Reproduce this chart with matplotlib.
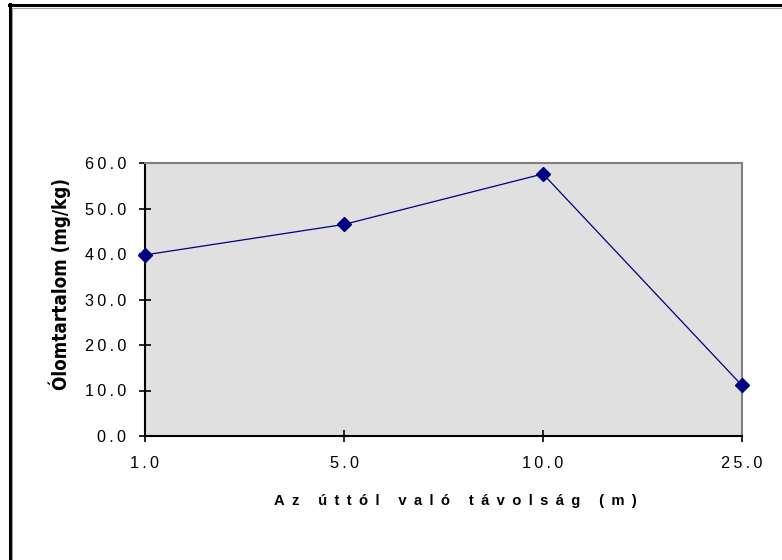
import matplotlib
matplotlib.use("Agg")
import matplotlib.pyplot as plt
from matplotlib.lines import Line2D

# Lead content of soil samples by distance from the road
distances = ["1.0", "5.0", "10.0", "25.0"]
lead_mg_kg = [39.8, 46.5, 57.6, 11.1]
y_ticks = [0, 10, 20, 30, 40, 50, 60]
y_tick_labels = ["0.0", "10.0", "20.0", "30.0", "40.0", "50.0", "60.0"]
x_title = "Az úttól való távolság (m)"
y_title = "Ólomtartalom (mg/kg)"

W, H = 782, 560
fig = plt.figure(figsize=(W / 100, H / 100), dpi=100)
fig.patch.set_facecolor("white")


def spaced(s, sep="\u2009"):
    # widen the letter spacing of a label
    return sep.join(s)


# plot area in pixel coordinates
left, right, top, bottom = 145, 742, 163, 436
ax = fig.add_axes([left / W, 1 - bottom / H, (right - left) / W, (bottom - top) / H])
ax.set_facecolor("#E0E0E0")

xs = list(range(len(distances)))
ax.plot(xs, lead_mg_kg, color="#000080", lw=0.9, marker="D", ms=7,
        markerfacecolor="#000080", markeredgecolor="#000080", clip_on=False, zorder=5)

ax.set_xlim(0, len(distances) - 1)
ax.set_ylim(0, 60)
ax.set_xticks(xs)
ax.set_xticklabels([spaced(d) for d in distances])
ax.set_yticks(y_ticks)
ax.set_yticklabels([spaced(t) for t in y_tick_labels])

for lab in ax.get_xticklabels() + ax.get_yticklabels():
    lab.set_fontfamily(["Liberation Sans", "DejaVu Sans"])
    lab.set_fontsize(11.7)
    lab.set_color("black")

ax.tick_params(axis="both", direction="inout", length=8.5, width=1.2, color="black")
ax.tick_params(axis="y", pad=9.5)
ax.tick_params(axis="x", pad=10)

ax.spines["left"].set_color("black")
ax.spines["left"].set_linewidth(1.5)
ax.spines["bottom"].set_color("black")
ax.spines["bottom"].set_linewidth(1.5)
ax.spines["top"].set_color("#808080")
ax.spines["top"].set_linewidth(1.5)
ax.spines["right"].set_color("#808080")
ax.spines["right"].set_linewidth(1.5)

fig.text(455 / W, 1 - 501 / H, spaced(x_title, "\u2002"), ha="center", va="center",
         fontsize=10.6, fontweight="bold", family=["Liberation Sans", "DejaVu Sans"])
fig.text(60 / W, 1 - 284 / H, y_title, ha="center", va="center", rotation=90,
         fontsize=13.5, fontweight="bold", fontstretch="condensed",
         family=["DejaVu Sans"])

# chart frame: dark top and left edges with a thin grey inner edge
fig.add_artist(Line2D([9.5 / W, 9.5 / W], [0, 1 - 3.5 / H], transform=fig.transFigure,
                      color="black", lw=2.2))
fig.add_artist(Line2D([8.5 / W, 1], [1 - 4.5 / H, 1 - 4.5 / H], transform=fig.transFigure,
                      color="black", lw=2.2))
fig.add_artist(Line2D([11.8 / W, 11.8 / W], [0, 1 - 7.5 / H], transform=fig.transFigure,
                      color="#A0A0A0", lw=0.8))
fig.add_artist(Line2D([11.5 / W, 1], [1 - 8 / H, 1 - 8 / H], transform=fig.transFigure,
                      color="#A0A0A0", lw=0.8))

fig.savefig("out.png", dpi=100)
